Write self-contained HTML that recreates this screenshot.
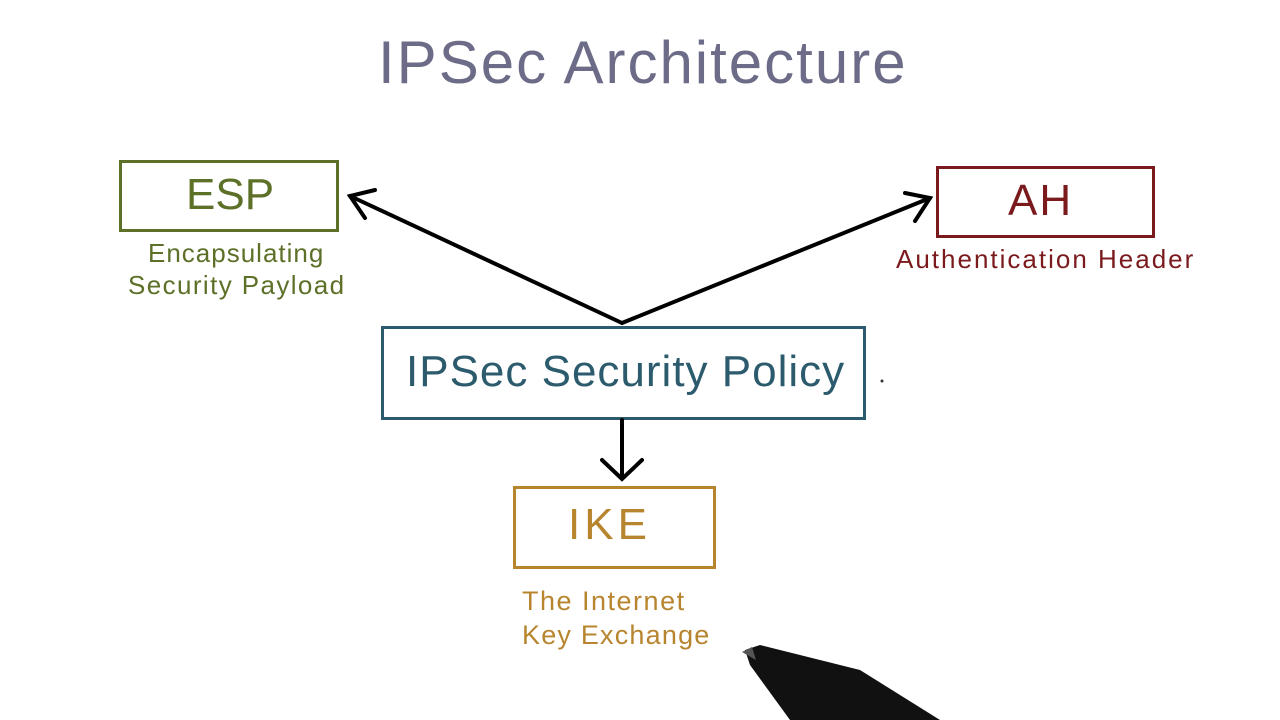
<!DOCTYPE html>
<html><head><meta charset="utf-8"><style>
body{margin:0;width:1280px;height:720px;background:#fff;overflow:hidden;position:relative;font-family:"Liberation Sans",sans-serif}
.t{position:absolute;white-space:nowrap}
.box{position:absolute;box-sizing:border-box}
</style></head><body>
<div class="t" style="left:378px;top:28px;font-size:60px;color:#6d6c88;letter-spacing:2px">IPSec Architecture</div>

<div class="box" style="left:119px;top:160px;width:220px;height:72px;border:3px solid #5c7028"></div>
<div class="t" style="left:186px;top:170px;font-size:44px;color:#5c7028">ESP</div>
<div class="t" style="left:148px;top:238px;font-size:26px;color:#5c7028;letter-spacing:1px">Encapsulating</div>
<div class="t" style="left:128px;top:270px;font-size:26px;color:#5c7028;letter-spacing:1.4px">Security Payload</div>

<div class="box" style="left:936px;top:166px;width:219px;height:72px;border:3px solid #7a1a1c"></div>
<div class="t" style="left:1008px;top:176px;font-size:44px;color:#7a1a1c;letter-spacing:2px">AH</div>
<div class="t" style="left:896px;top:244px;font-size:26px;color:#7a1a1c;letter-spacing:2px">Authentication Header</div>

<div class="box" style="left:381px;top:326px;width:485px;height:94px;border:3px solid #2b5b6c"></div>
<div class="t" style="left:406px;top:347px;font-size:44px;color:#2b5b6c;letter-spacing:1px">IPSec Security Policy</div>

<div class="box" style="left:513px;top:486px;width:203px;height:83px;border:3px solid #b8852f"></div>
<div class="t" style="left:568px;top:500px;font-size:44px;color:#b8852f;letter-spacing:4px">IKE</div>
<div class="t" style="left:522px;top:586px;font-size:27px;color:#b8852f;letter-spacing:1.5px">The Internet</div>
<div class="t" style="left:522px;top:620px;font-size:27px;color:#b8852f;letter-spacing:1.2px">Key Exchange</div>

<svg width="1280" height="720" style="position:absolute;left:0;top:0">
<g stroke="#000" stroke-width="4" fill="none" stroke-linecap="round">
<line x1="622" y1="323" x2="350" y2="196"/>
<polyline points="375,190 350,196 365,218"/>
<line x1="622" y1="323" x2="930" y2="198"/>
<polyline points="905,193 930,198 915,221"/>
<line x1="622" y1="420" x2="622" y2="478"/>
<polyline points="602,460 622,479 642,460"/>
</g>
<circle cx="882" cy="381" r="1.5" fill="#333"/>
<path d="M745,650 L760,645 L860,670 L940,720 L790,720 L750,665 Z" fill="#111"/>
<path d="M742,652 L752,647 L756,660 Z" fill="#555"/>
</svg>
</body></html>
